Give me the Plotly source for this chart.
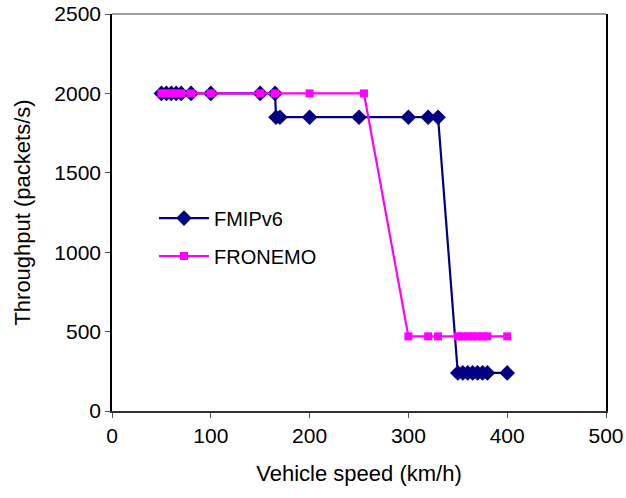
import plotly.graph_objects as go

# Vehicle speed (km/h) and throughput (packets/s) for each protocol
fmipv6_speed = [50, 55, 60, 65, 70, 80, 100, 150, 165, 166, 170, 200, 250, 300, 320, 330,
                350, 355, 360, 365, 370, 375, 380, 400]
fmipv6_tput = [2000, 2000, 2000, 2000, 2000, 2000, 2000, 2000, 2000, 1850, 1850, 1850, 1850,
               1850, 1850, 1850, 240, 240, 240, 240, 240, 240, 240, 240]

fronemo_speed = [50, 55, 60, 65, 70, 80, 100, 150, 165, 200, 255, 300, 320, 330,
                 350, 355, 360, 365, 370, 375, 380, 400]
fronemo_tput = [2000, 2000, 2000, 2000, 2000, 2000, 2000, 2000, 2000, 2000, 2000, 470, 470,
                470, 470, 470, 470, 470, 470, 470, 470, 470]

x_ticks = [0, 100, 200, 300, 400, 500]
y_ticks = [0, 500, 1000, 1500, 2000, 2500]

FONT = "Liberation Sans, Arial, sans-serif"

fig = go.Figure()
fig.add_trace(go.Scatter(
    x=fmipv6_speed, y=fmipv6_tput, name="FMIPv6", mode="lines+markers",
    legendgroup="fmipv6",
    line=dict(color="#000080", width=2.2),
    marker=dict(symbol="diamond", size=12, color="#000080"),
))
fig.add_trace(go.Scatter(
    x=fronemo_speed, y=fronemo_tput, name="FRONEMO", mode="lines+markers",
    legendgroup="fronemo",
    line=dict(color="#FF00FF", width=2.2),
    marker=dict(symbol="square", size=8, color="#FF00FF"),
))

fig.update_layout(
    width=626, height=498,
    margin=dict(l=112, r=20, t=14, b=87, autoexpand=False),
    paper_bgcolor="white", plot_bgcolor="white",
    font=dict(family=FONT, size=20, color="black"),
    showlegend=True,
    legend=dict(x=0.085, y=0.535, xanchor="left", yanchor="top",
                bgcolor="rgba(0,0,0,0)", font=dict(size=20),
                itemwidth=50, tracegroupgap=9),
    shapes=[dict(type="line", xref="paper", yref="paper", x0=0, x1=1, y0=1, y1=1,
                 line=dict(color="#808080", width=1.5))],
)
fig.update_xaxes(
    range=[0, 500], tickvals=x_ticks, ticks="outside", ticklen=5, tickcolor="#555",
    showline=True, linecolor="#333", linewidth=1.5, showgrid=False, zeroline=False,
    automargin=False,
    title=dict(text="Vehicle speed (km/h)", font=dict(size=22), standoff=20),
    tickfont=dict(size=21),
)
fig.update_yaxes(
    range=[0, 2500], tickvals=y_ticks, ticks="outside", ticklen=5, tickcolor="#555",
    showline=True, linecolor="black", linewidth=1.5, mirror=True, showgrid=False,
    zeroline=False, automargin=False,
    title=dict(text="Throughput (packets/s)", font=dict(size=22), standoff=18),
    tickfont=dict(size=21),
)

fig.write_html("out.html")
